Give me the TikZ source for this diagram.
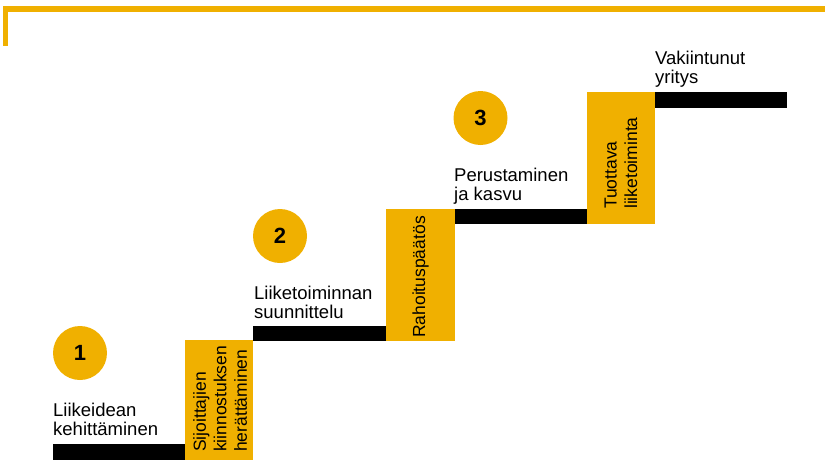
\documentclass[tikz,border=0pt]{standalone}
\usepackage{fontspec}
\setmainfont{Liberation Sans}
\definecolor{stepyellow}{RGB}{240,176,0}
\begin{document}
\begin{tikzpicture}[x=1pt,y=-1pt,
  tread/.style={fill=black},
  riser/.style={fill=stepyellow},
  badge/.style={circle,fill=stepyellow,minimum size=54pt,inner sep=0pt,
    font=\fontsize{22}{22}\selectfont\bfseries},
  steplabel/.style={anchor=base west,align=left,inner sep=0pt,
    font=\fontsize{18.5}{18.5}\selectfont},
  riserlabel/.style={rotate=90,anchor=west,align=left,inner sep=0pt,
    font=\fontsize{17.5}{20.5}\selectfont}]
\useasboundingbox (0,0) rectangle (825,461);

% frame corner at the top
\fill[stepyellow] (3,6) rectangle (825,12);
\fill[stepyellow] (3,6) rectangle (8,46);

% treads
\fill[tread] (53,444) rectangle (186,460);
\fill[tread] (253,326) rectangle (387,341);
\fill[tread] (454,209) rectangle (588,224);
\fill[tread] (655,92) rectangle (787,108);

% risers
\fill[riser] (185,340) rectangle (253,460);
\fill[riser] (386,209) rectangle (455,341);
\fill[riser] (587,92) rectangle (655,224);

% numbered badges
\node[badge] (b1) at (80,353) {1};
\node[badge] (b2) at (280,236) {2};
\node[badge] (b3) at (480.5,118) {3};

% stage labels (anchored on the baseline of the last line)
\node[steplabel] (s1) at (53,435) {Liikeidean\\kehittäminen};
\node[steplabel] (s2) at (254,318) {Liiketoiminnan\\suunnittelu};
\node[steplabel] (s3) at (454,200) {Perustaminen\\ja kasvu};
\node[steplabel] (s4) at (655,83) {Vakiintunut\\yritys};

% transition labels
\node[riserlabel] (r1) at (220,452) {Sijoittajien\\kiinnostuksen\\herättäminen};
\node[riserlabel] (r2) at (420.5,338) {Rahoituspäätös};
\node[riserlabel] (r3) at (621,209) {Tuottava\\liiketoiminta};
\end{tikzpicture}
\end{document}
